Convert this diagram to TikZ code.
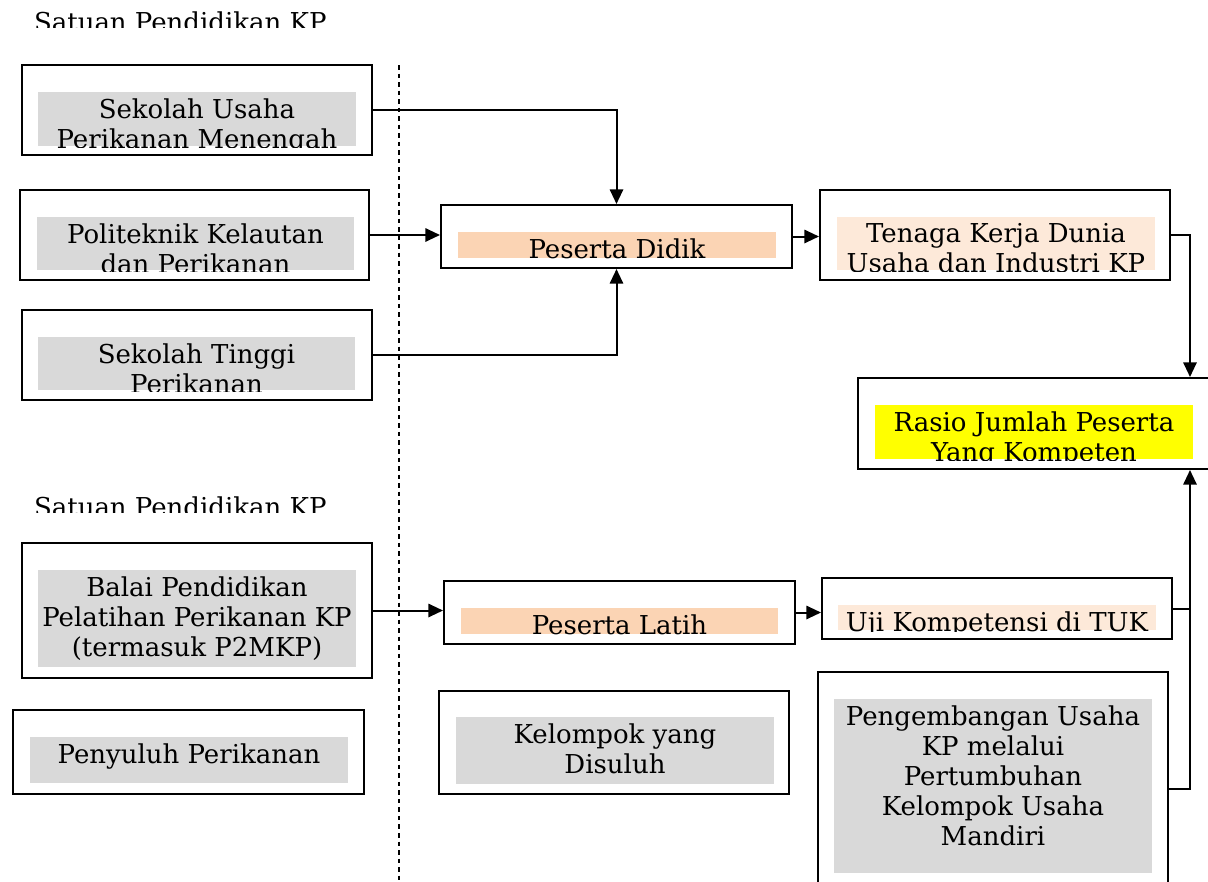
\documentclass[tikz,border=0pt]{standalone}
\usepackage{fontspec}
\setmainfont{DejaVu Serif}
\usetikzlibrary{arrows.meta,fit}

\definecolor{abu}{HTML}{D9D9D9}
\definecolor{jingga}{HTML}{FBD4B4}
\definecolor{krem}{HTML}{FDE9D9}
\definecolor{kuning}{HTML}{FFFF00}

% kotak isi berwarna, teks dipotong di tepinya
\newcommand\isikotak[5]{%
  \node[fill=#2, inner sep=0pt, fit={(#3) (#4)}] (#1) {};
  \begin{scope}
    \clip (#1.south west) rectangle (#1.north east);
    \node[teks, anchor=north] (#1-teks) at ([yshift=-5pt]#1.north) {#5};
  \end{scope}}

\begin{document}
\begin{tikzpicture}[x=0.75pt, y=-0.75pt, >={Triangle[length=11pt,width=10pt]},
                    line width=1.5pt,
                    kotak/.style={draw, line width=1.5pt, inner sep=0pt},
                    teks/.style={inner sep=0pt, align=center, font=\fontsize{19.5}{22.5}\selectfont}]

  \clip[use as bounding box] (0,0) rectangle (1208,882);

  % judul
  \begin{scope}
    \clip (0,0) rectangle (420,27);
    \node[teks, anchor=north west] (judul-atas) at (33,11) {Satuan Pendidikan KP};
  \end{scope}
  \begin{scope}
    \clip (0,480) rectangle (420,512);
    \node[teks, anchor=north west] (judul-bawah) at (33,496) {Satuan Pendidikan KP};
  \end{scope}

  % garis putus-putus
  \coordinate (garis-atas)  at (399,65);
  \coordinate (garis-bawah) at (399,882);
  \draw[line width=1pt, dash pattern=on 3.4pt off 3pt] (garis-atas) -- (garis-bawah);

  % kotak
  \node[kotak, fit={(22,65) (372,155)}]   (smk) {};
  \isikotak{smk-isi}{abu}{38,92}{356,146}{Sekolah Usaha\\Perikanan Menengah}
  \node[kotak, fit={(20,190) (369,280)}]  (poli) {};
  \isikotak{poli-isi}{abu}{37,217}{354,270}{Politeknik Kelautan\\dan Perikanan}
  \node[kotak, fit={(22,310) (372,400)}]  (stp) {};
  \isikotak{stp-isi}{abu}{38,337}{355,390}{Sekolah Tinggi\\Perikanan}

  \node[kotak, fit={(441,205) (792,268)}] (didik) {};
  \isikotak{didik-isi}{jingga}{458,232}{776,258}{Peserta Didik}
  \node[kotak, fit={(820,190) (1170,280)}] (tenaga) {};
  \isikotak{tenaga-isi}{krem}{837,217}{1155,270}{Tenaga Kerja Dunia\\Usaha dan Industri KP}
  \node[kotak, fit={(858,378) (1222,469)}] (rasio) {};
  \isikotak{rasio-isi}{kuning}{875,405}{1193,459}{Rasio Jumlah Peserta\\Yang Kompeten}

  \node[kotak, fit={(22,543) (372,678)}]  (balai) {};
  \isikotak{balai-isi}{abu}{38,570}{356,667}{Balai Pendidikan\\Pelatihan Perikanan KP\\(termasuk P2MKP)}
  \node[kotak, fit={(444,581) (795,644)}] (latih) {};
  \isikotak{latih-isi}{jingga}{461,608}{778,634}{Peserta Latih}
  \node[kotak, fit={(822,578) (1172,639)}] (uji) {};
  \isikotak{uji-isi}{krem}{838,605}{1156,630}{Uji Kompetensi di TUK}

  \node[kotak, fit={(13,710) (364,794)}]  (penyuluh) {};
  \isikotak{penyuluh-isi}{abu}{30,737}{348,783}{Penyuluh Perikanan}
  \node[kotak, fit={(439,691) (789,794)}] (kelompok) {};
  \isikotak{kelompok-isi}{abu}{456,717}{774,784}{Kelompok yang\\Disuluh}
  \node[kotak, fit={(818,672) (1168,906)}] (kembang) {};
  \isikotak{kembang-isi}{abu}{834,699}{1152,873}{Pengembangan Usaha\\KP melalui\\Pertumbuhan\\Kelompok Usaha\\Mandiri}

  % panah
  \coordinate (jalur) at (1190,0);
  \draw[->] (smk.east) -| (didik.north);
  \draw[->] (poli.east) -- (poli.east -| didik.west);
  \draw[->] (stp.east) -| (didik.south);
  \draw[->] (didik.east) -- (didik.east -| tenaga.west);
  \draw[->] (tenaga.east) -| (jalur |- rasio.north);
  \draw     (uji.east) -- (uji.east -| jalur);
  \draw[->] (kembang.east) -| (jalur |- rasio.south);
  \draw[->] (balai.east) -- (balai.east -| latih.west);
  \draw[->] (latih.east) -- (latih.east -| uji.west);
\end{tikzpicture}
\end{document}
